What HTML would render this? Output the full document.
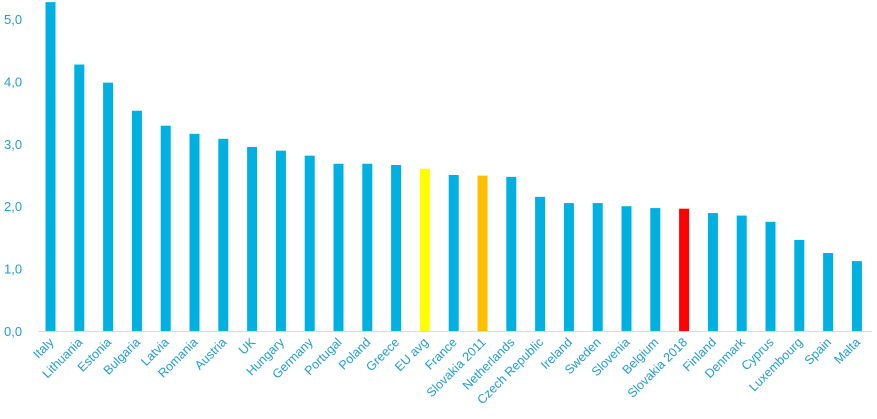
<!DOCTYPE html>
<html><head><meta charset="utf-8"><style>
html,body{margin:0;padding:0;background:#fff;}
svg{display:block;font-family:"Liberation Sans",sans-serif;}
</style></head><body>
<svg id="chart" width="877" height="419" viewBox="0 0 877 419"></svg>
<script>
const categories=["Italy","Lithuania","Estonia","Bulgaria","Latvia","Romania","Austria","UK","Hungary","Germany","Portugal","Poland","Greece","EU avg","France","Slovakia 2011","Netherlands","Czech Republic","Ireland","Sweden","Slovenia","Belgium","Slovakia 2018","Finland","Denmark","Cyprus","Luxembourg","Spain","Malta"];
const values=[5.27,4.27,3.98,3.53,3.29,3.16,3.08,2.95,2.89,2.81,2.68,2.68,2.66,2.6,2.5,2.49,2.47,2.15,2.05,2.05,2.0,1.97,1.96,1.89,1.85,1.75,1.46,1.25,1.12];
const highlights={"EU avg":"#ffff00","Slovakia 2011":"#ffc000","Slovakia 2018":"#ff0000"};
const yTicks=[0,1,2,3,4,5];
const yTickLabels=["0,0","1,0","2,0","3,0","4,0","5,0"];

const svg=document.getElementById('chart');
const NS="http://www.w3.org/2000/svg";
const y0=331,pxPerUnit=62.4,x0=50.5,step=28.8,bw=10;
const yScale=v=>y0-v*pxPerUnit;
const xScale=i=>x0+i*step;
function mk(tag,attrs){const e=document.createElementNS(NS,tag);for(const k in attrs)e.setAttribute(k,attrs[k]);svg.appendChild(e);return e;}

yTicks.forEach((t,i)=>{
  const tx=mk('text',{x:4,y:yScale(t)+5,fill:'#1f9bd6','font-size':13});
  
  
  tx.textContent=yTickLabels[i];
});
const ax=mk('line',{x1:38,x2:872,y1:y0+0.5,y2:y0+0.5,stroke:'#d9d9d9','stroke-width':1});



categories.forEach((c,i)=>{
  const cx=xScale(i),v=values[i];
  const r=mk('rect',{x:cx-bw/2,y:yScale(v),width:bw,height:v*pxPerUnit,fill:highlights[c]||'#00b0e0'});
  
  
  const t=mk('text',{x:cx+4,y:y0+12,fill:'#1f9bd6','font-size':12.5,'text-anchor':'end',transform:`rotate(-45 ${cx+4} ${y0+12})`});
  
  
  t.textContent=c;
});
</script>
</body></html>
